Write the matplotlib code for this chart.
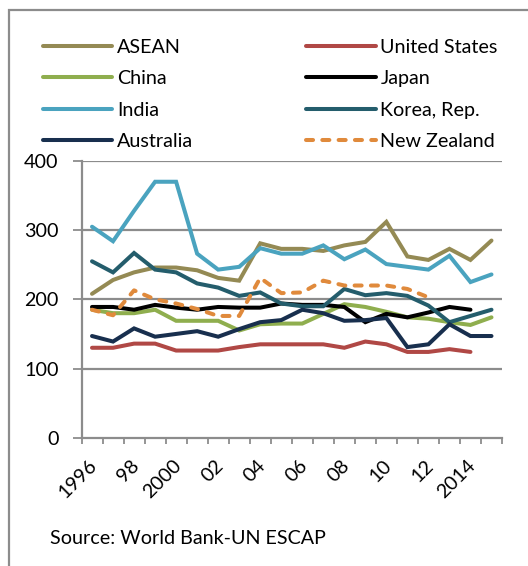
import matplotlib
matplotlib.use("Agg")
import matplotlib.pyplot as plt
import matplotlib.transforms as mtransforms
from matplotlib.patches import Rectangle
import numpy as np

plt.rcParams["font.family"] = ["Lato", "DejaVu Sans"]

YEARS = list(range(1996, 2016))
TICK_LABELS = ["1996", "98", "2000", "02", "04", "06", "08", "10", "12", "2014"]

asean = [208, 228, 239, 246, 246, 242, 231, 227, 281, 273, 273, 270, 278, 283, 312, 262, 257, 273, 257, 285]
united_states = [130, 130, 136, 136, 126, 126, 126, 131, 135, 135, 135, 135, 130, 139, 135, 124, 124, 128, 124, None]
china = [185, 180, 180, 185, 169, 169, 169, 155, 164, 165, 165, 179, 193, 189, 182, 174, 172, 167, 163, 174]
japan = [189, 189, 185, 192, 188, 185, 189, 188, 188, 194, 192, 192, 189, 167, 179, 174, 181, 189, 185, None]
india = [305, 284, 328, 370, 370, 266, 243, 247, 274, 266, 266, 278, 258, 272, 251, 247, 243, 263, 225, 236]
korea = [255, 239, 267, 243, 239, 223, 217, 205, 210, 194, 190, 190, 215, 206, 209, 205, 191, 167, 176, 185]
australia = [147, 139, 158, 146, 150, 154, 146, 157, 167, 170, 185, 180, 169, 170, 173, 131, 135, 164, 147, 147]
new_zealand = [185, 177, 213, 200, 194, 186, 176, 176, 231, 209, 210, 227, 220, 220, 220, 215, 203, None, None, None]

SERIES = [
    ("ASEAN", asean, "#948A54", "-"),
    ("United States", united_states, "#B04845", "-"),
    ("China", china, "#8FAE4E", "-"),
    ("Japan", japan, "#000000", "-"),
    ("India", india, "#4AA3BF", "-"),
    ("Korea, Rep.", korea, "#245D6C", "-"),
    ("Australia", australia, "#182F4E", "-"),
    ("New Zealand", new_zealand, "#E08A3C", "--"),
]

GRAY = "#8C8C8C"
FS = 14.2

fig = plt.figure(figsize=(5.28, 5.66), dpi=100)
ax = fig.add_axes([81.5 / 528, 1 - 437.7 / 566, 420.5 / 528, 276.7 / 566])

x = np.arange(len(YEARS))
handles = {}
for name, vals, color, ls in SERIES:
    y = np.array([np.nan if v is None else v for v in vals], dtype=float)
    (ln,) = ax.plot(x, y, color=color, lw=2.9, solid_capstyle="round",
                    dash_capstyle="round", solid_joinstyle="miter", label=name)
    if ls == "--":
        ln.set_dashes((1.75, 2.3))
    handles[name] = ln

ax.set_xlim(-0.5, len(YEARS) - 0.5)
ax.set_ylim(0, 400)

# gridlines
for v in [100, 200, 300, 400]:
    ax.axhline(v, color=GRAY, lw=1.6, zorder=0)

ax.set_yticks([0, 100, 200, 300, 400])
ax.set_yticklabels(["0", "100", "200", "300", "400"], fontsize=FS)
ax.tick_params(axis="y", length=6.5, width=1.3, color=GRAY, pad=10)

# ticks between categories, labels every second year
ax.set_xticks(np.arange(-0.5, len(YEARS), 1.0))
ax.set_xticklabels([])
ax.tick_params(axis="x", which="major", length=4, width=1.3, color=GRAY)
ax.set_xticks(x[::2], minor=True)
ax.set_xticklabels(TICK_LABELS, minor=True, fontsize=FS, rotation=45,
                   ha="right", va="center", rotation_mode="anchor")
ax.tick_params(axis="x", which="minor", length=0, pad=18)
shift = mtransforms.ScaledTranslation(1.5 / 72, 0, fig.dpi_scale_trans)
for lab in ax.get_xticklabels(minor=True):
    lab.set_transform(lab.get_transform() + shift)

for s in ["top", "right"]:
    ax.spines[s].set_visible(False)
for s in ["left", "bottom"]:
    ax.spines[s].set_color(GRAY)
    ax.spines[s].set_linewidth(1.6)

order = ["ASEAN", "China", "India", "Australia",
         "United States", "Japan", "Korea, Rep.", "New Zealand"]
fig.legend([handles[n] for n in order], order, ncol=2, frameon=False,
           fontsize=FS, handlelength=3.5, handletextpad=0.25,
           columnspacing=5.75, labelspacing=0.73, borderpad=0,
           borderaxespad=0,
           loc="upper left", bbox_to_anchor=(43 / 528, 1 - 39 / 566))

fig.text(50 / 528, 1 - 538 / 566, "Source: World Bank-UN ESCAP",
         fontsize=FS, va="center", ha="left")

fig.patches.append(Rectangle((9 / 528, -0.2), 1.2, 1.2 - 10 / 566,
                             transform=fig.transFigure, fill=False,
                             edgecolor=GRAY, lw=1.6, clip_on=False))

fig.savefig("out.png", dpi=100)
